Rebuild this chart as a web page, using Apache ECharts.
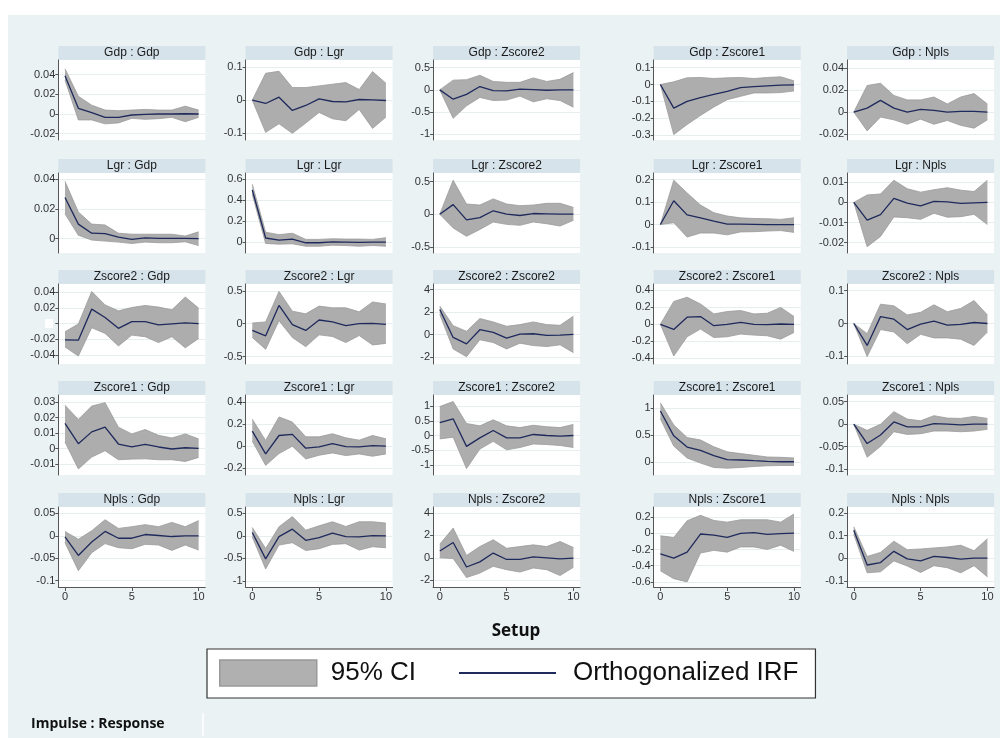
<!DOCTYPE html>
<html><head><meta charset="utf-8">
<script src="https://cdn.jsdelivr.net/npm/echarts@6/dist/echarts.min.js"></script>
<style>
html,body{margin:0;padding:0;background:#fff;}
#bg{position:absolute;left:8px;top:15px;width:992px;height:723px;background:#eaf2f3;}
#chart{position:absolute;left:0;top:0;width:1000px;height:738px;}
</style></head><body>
<div id="bg"></div><div id="chart"></div>
<script>
// ---------------- data ----------------
var HORIZON = [0,1,2,3,4,5,6,7,8,9,10];
var IMPULSES  = ['Gdp','Lgr','Zscore2','Zscore1','Npls'];
var RESPONSES = ['Gdp','Lgr','Zscore2','Zscore1','Npls'];

// impulse Gdp
var irf_Gdp_Gdp = [0.039,0.0058,0.0014,-0.0034,-0.0034,-0.001,-0.0003,0,0,0.0003,0];
var hi_Gdp_Gdp  = [0.046,0.018,0.009,0.004,0.0034,0.004,0.0047,0.004,0.004,0.008,0.004];
var lo_Gdp_Gdp  = [0.0346,-0.006,-0.006,-0.010,-0.009,-0.0044,-0.0054,-0.0047,-0.0034,-0.0078,-0.0034];
var yt_Gdp_Gdp  = [-0.02,0,0.02,0.04];

var irf_Gdp_Lgr = [0,-0.010,0.009,-0.031,-0.016,0.004,-0.004,-0.005,0.002,0.001,-0.001];
var hi_Gdp_Lgr  = [0,0.081,0.087,0.038,0.038,0.043,0.048,0.053,0.032,0.086,0.051];
var lo_Gdp_Lgr  = [0,-0.097,-0.071,-0.10,-0.069,-0.037,-0.056,-0.062,-0.028,-0.085,-0.051];
var yt_Gdp_Lgr  = [-0.1,0,0.1];

var irf_Gdp_Zscore2 = [0,-0.21,-0.1,0.076,-0.015,-0.023,0.015,0.008,-0.008,0,0];
var hi_Gdp_Zscore2  = [0,0.22,0.23,0.33,0.19,0.17,0.17,0.27,0.19,0.24,0.39];
var lo_Gdp_Zscore2  = [0,-0.64,-0.36,-0.17,-0.24,-0.23,-0.14,-0.27,-0.2,-0.24,-0.39];
var yt_Gdp_Zscore2  = [-1,-0.5,0,0.5];

var irf_Gdp_Zscore1 = [0,-0.14,-0.1,-0.078,-0.058,-0.04,-0.018,-0.012,-0.008,-0.004,-0.002];
var hi_Gdp_Zscore1  = [0,0.016,0.04,0.042,0.036,0.04,0.042,0.036,0.042,0.046,0.022];
var lo_Gdp_Zscore1  = [0,-0.298,-0.238,-0.184,-0.134,-0.09,-0.07,-0.05,-0.05,-0.048,-0.038];
var yt_Gdp_Zscore1  = [-0.3,-0.2,-0.1,0,0.1];

var irf_Gdp_Npls = [0,0.0036,0.0106,0.0036,0,0.0024,0.0015,0,0.0006,0.0006,0];
var hi_Gdp_Npls  = [0,0.024,0.026,0.015,0.011,0.011,0.0136,0.0073,0.0136,0.0167,0.0073];
var lo_Gdp_Npls  = [0,-0.017,-0.0045,-0.007,-0.011,-0.0064,-0.011,-0.0076,-0.012,-0.0145,-0.007];
var yt_Gdp_Npls  = [-0.02,0,0.02,0.04];

// impulse Lgr
var irf_Lgr_Gdp = [0.0277,0.0098,0.0037,0.0034,0.0011,-0.0005,0.0005,0.0002,0.0002,0.0002,0];
var hi_Lgr_Gdp  = [0.0385,0.0179,0.0098,0.0092,0.0037,0.003,0.003,0.003,0.003,0.0018,0.0046];
var lo_Lgr_Gdp  = [0.0167,0.0023,-0.0009,-0.0016,-0.0023,-0.0032,-0.0023,-0.0027,-0.0027,-0.0021,-0.0046];
var yt_Lgr_Gdp  = [0,0.02,0.04];

var irf_Lgr_Lgr = [0.494,0.039,0.019,0.029,-0.006,-0.006,0.003,0,-0.003,0,0];
var hi_Lgr_Lgr  = [0.548,0.094,0.071,0.084,0.026,0.026,0.032,0.029,0.029,0.026,0.042];
var lo_Lgr_Lgr  = [0.452,-0.013,-0.019,-0.016,-0.039,-0.039,-0.029,-0.032,-0.039,-0.032,-0.039];
var yt_Lgr_Lgr  = [0,0.2,0.4,0.6];

var irf_Lgr_Zscore2 = [0,0.146,-0.088,-0.052,0.052,0,-0.02,0.01,0.005,0,0];
var hi_Lgr_Zscore2  = [0,0.52,0.156,0.14,0.234,0.156,0.13,0.14,0.166,0.166,0.104];
var lo_Lgr_Zscore2  = [0,-0.21,-0.338,-0.234,-0.12,-0.156,-0.17,-0.12,-0.146,-0.182,-0.094];
var yt_Lgr_Zscore2  = [-0.5,0,0.5];

var irf_Lgr_Zscore1 = [0,0.106,0.043,0.03,0.015,0.0015,0.0015,0.001,0,0,0];
var hi_Lgr_Zscore1  = [0,0.198,0.141,0.087,0.053,0.038,0.03,0.027,0.026,0.023,0.03];
var lo_Lgr_Zscore1  = [0,0.008,-0.056,-0.038,-0.038,-0.046,-0.033,-0.032,-0.029,-0.027,-0.035];
var yt_Lgr_Zscore1  = [-0.1,0,0.1,0.2];

var irf_Lgr_Npls = [0,-0.0088,-0.0061,0.002,-0.0003,-0.0017,0.0005,0.0003,-0.0005,-0.0002,0];
var hi_Lgr_Npls  = [0,0.0037,0.0042,0.011,0.0068,0.0051,0.0063,0.0073,0.0061,0.0054,0.011];
var lo_Lgr_Npls  = [0,-0.022,-0.0169,-0.0072,-0.0076,-0.0084,-0.0054,-0.0073,-0.0071,-0.0059,-0.011];
var yt_Lgr_Npls  = [-0.02,-0.01,0,0.01];

// impulse Zscore2
var irf_Zscore2_Gdp = [-0.0208,-0.0212,0.0186,0.0078,-0.006,0.0026,0.0026,-0.0017,-0.0004,0.0009,0];
var hi_Zscore2_Gdp  = [-0.0104,-0.0004,0.0413,0.024,0.0164,0.0207,0.0233,0.0212,0.0177,0.0341,0.0199];
var lo_Zscore2_Gdp  = [-0.0298,-0.0415,-0.0052,-0.0125,-0.0285,-0.0147,-0.0168,-0.0242,-0.0168,-0.031,-0.019];
var yt_Zscore2_Gdp  = [-0.04,-0.02,0,0.02,0.04];

var irf_Zscore2_Lgr = [-0.103,-0.185,0.277,-0.015,-0.103,0.056,0.026,-0.031,0,0.005,-0.01];
var hi_Zscore2_Lgr  = [0.01,0.026,0.49,0.19,0.149,0.267,0.241,0.241,0.18,0.33,0.30];
var lo_Zscore2_Lgr  = [-0.21,-0.39,0.046,-0.21,-0.349,-0.17,-0.195,-0.287,-0.18,-0.323,-0.30];
var yt_Zscore2_Lgr  = [-0.5,0,0.5];

var irf_Zscore2_Zscore2 = [2.25,-0.24,-0.81,0.45,0.21,-0.3,0.06,0.09,-0.06,-0.03,0.03];
var hi_Zscore2_Zscore2  = [2.55,0.81,0.3,1.44,1.14,0.75,0.9,1.14,0.9,0.84,1.65];
var lo_Zscore2_Zscore2  = [1.8,-1.26,-1.95,-0.45,-0.69,-1.26,-0.75,-0.96,-1.05,-0.9,-1.59];
var yt_Zscore2_Zscore2  = [-2,0,2,4];

var irf_Zscore2_Zscore1 = [0,-0.06,0.084,0.092,-0.016,0,0.024,0,-0.004,0.004,0];
var hi_Zscore2_Zscore1  = [0,0.27,0.32,0.24,0.123,0.151,0.163,0.123,0.131,0.2,0.092];
var lo_Zscore2_Zscore1  = [0,-0.374,-0.147,-0.056,-0.155,-0.147,-0.115,-0.127,-0.135,-0.175,-0.096];
var yt_Zscore2_Zscore1  = [-0.4,-0.2,0,0.2,0.4];

var irf_Zscore2_Npls = [0,-0.067,0.021,0.013,-0.0185,-0.002,0.007,-0.005,-0.003,0.003,0];
var hi_Zscore2_Npls  = [0,-0.031,0.059,0.054,0.026,0.034,0.057,0.036,0.046,0.07,0.026];
var lo_Zscore2_Npls  = [0,-0.101,-0.0185,-0.026,-0.062,-0.033,-0.044,-0.044,-0.048,-0.067,-0.026];
var yt_Zscore2_Npls  = [-0.1,0,0.1];

// impulse Zscore1
var irf_Zscore1_Gdp = [0.0162,0.0032,0.0108,0.0138,0.003,0.0011,0.0028,0.0011,-0.0002,0.0006,0.0002];
var hi_Zscore1_Gdp  = [0.0279,0.0188,0.0274,0.0296,0.0138,0.0095,0.0123,0.0086,0.0069,0.0095,0.0063];
var lo_Zscore1_Gdp  = [0.0043,-0.013,-0.0054,-0.0013,-0.0071,-0.0067,-0.0065,-0.0071,-0.0071,-0.0082,-0.0056];
var yt_Zscore1_Gdp  = [-0.01,0,0.01,0.02,0.03];

var irf_Zscore1_Lgr = [0.137,-0.07,0.097,0.107,-0.018,-0.006,0.024,-0.003,-0.006,0.006,0];
var hi_Zscore1_Lgr  = [0.244,0.052,0.265,0.219,0.085,0.085,0.113,0.076,0.055,0.097,0.067];
var lo_Zscore1_Lgr  = [0.046,-0.174,-0.067,0,-0.116,-0.082,-0.061,-0.085,-0.07,-0.091,-0.07];
var yt_Zscore1_Lgr  = [-0.2,0,0.2,0.4];

var irf_Zscore1_Zscore2 = [0.44,0.57,-0.37,-0.08,0.17,-0.08,-0.08,0.035,0,-0.023,0];
var hi_Zscore1_Zscore2  = [0.99,1.16,0.41,0.33,0.535,0.33,0.27,0.35,0.30,0.27,0.38];
var lo_Zscore1_Zscore2  = [-0.116,-0.058,-1.13,-0.465,-0.2,-0.49,-0.41,-0.29,-0.31,-0.34,-0.41];
var yt_Zscore1_Zscore2  = [-1,-0.5,0,0.5,1];

var irf_Zscore1_Zscore1 = [0.943,0.484,0.277,0.214,0.12,0.044,0.038,0.025,0.013,0.006,0.006];
var hi_Zscore1_Zscore1  = [1.094,0.686,0.453,0.409,0.283,0.189,0.157,0.126,0.094,0.088,0.075];
var lo_Zscore1_Zscore1  = [0.8,0.296,0.075,-0.019,-0.1,-0.113,-0.1,-0.082,-0.069,-0.063,-0.063];
var yt_Zscore1_Zscore1  = [0,0.5,1];

var irf_Zscore1_Npls = [0,-0.043,-0.024,0.005,-0.006,-0.006,0.0015,0,-0.0015,0,0];
var hi_Zscore1_Npls  = [0,-0.0136,0,0.028,0.0114,0.0076,0.019,0.0136,0.0129,0.0174,0.0129];
var lo_Zscore1_Npls  = [0,-0.0735,-0.0493,-0.0167,-0.0227,-0.0212,-0.0152,-0.0152,-0.0167,-0.0152,-0.0114];
var yt_Zscore1_Npls  = [-0.1,-0.05,0,0.05];

// impulse Npls
var irf_Npls_Gdp = [-0.0023,-0.0437,-0.0136,0.0098,-0.0053,-0.0053,0.003,0.0008,-0.0015,0,0];
var hi_Npls_Gdp  = [0.0098,-0.0075,0.0113,0.036,0.0166,0.0204,0.025,0.0204,0.030,0.0204,0.034];
var lo_Npls_Gdp  = [-0.0151,-0.0777,-0.0377,-0.0173,-0.0264,-0.0287,-0.0189,-0.0204,-0.0324,-0.0204,-0.0317];
var yt_Npls_Gdp  = [-0.1,-0.05,0,0.05];

var irf_Npls_Lgr = [0.075,-0.51,-0.015,0.15,-0.098,-0.038,0.06,-0.015,-0.023,0.008,0];
var hi_Npls_Lgr  = [0.188,-0.278,0.203,0.43,0.128,0.225,0.315,0.21,0.315,0.315,0.285];
var lo_Npls_Lgr  = [-0.023,-0.735,-0.203,-0.15,-0.323,-0.285,-0.188,-0.173,-0.315,-0.24,-0.263];
var yt_Npls_Lgr  = [-1,-0.5,0,0.5];

var irf_Npls_Zscore2 = [0.61,1.36,-0.82,-0.36,0.42,-0.15,-0.15,0.09,0,-0.09,-0.03];
var hi_Npls_Zscore2  = [1.21,2.64,0.21,1.0,1.6,0.85,1.0,1.15,1.0,1.45,0.91];
var lo_Npls_Zscore2  = [0,-0.06,-1.76,-1.36,-0.76,-1.06,-1.27,-0.91,-1.06,-1.58,-0.85];
var yt_Npls_Zscore2  = [-2,0,2,4];

var irf_Npls_Zscore1 = [-0.253,-0.307,-0.232,-0.008,-0.021,-0.05,0,0.008,-0.013,-0.004,0.004];
var hi_Npls_Zscore1  = [-0.03,-0.05,0.156,0.223,0.16,0.139,0.168,0.168,0.168,0.139,0.24];
var lo_Npls_Zscore1  = [-0.463,-0.56,-0.6,-0.244,-0.21,-0.232,-0.168,-0.168,-0.198,-0.147,-0.223];
var yt_Npls_Zscore1  = [-0.6,-0.4,-0.2,0,0.2];

var irf_Npls_Npls = [0.123,-0.03,-0.0195,0.03,-0.003,-0.012,0.0075,0.003,-0.0045,0,0];
var hi_Npls_Npls  = [0.138,0.0075,0.0255,0.075,0.0375,0.0405,0.045,0.0495,0.057,0.033,0.0855];
var lo_Npls_Npls  = [0.105,-0.0645,-0.06,-0.012,-0.0345,-0.063,-0.033,-0.042,-0.0645,-0.033,-0.0825];
var yt_Npls_Npls  = [-0.1,0,0.1,0.2];

// y-axis extents of each panel's plot region [min, max]
var YRANGE = {
  Gdp_Gdp:[-0.0264,0.0549], Gdp_Lgr:[-0.120,0.121], Gdp_Zscore2:[-1.13,0.674], Gdp_Zscore1:[-0.33,0.146], Gdp_Npls:[-0.0252,0.047],
  Lgr_Gdp:[-0.0096,0.0441], Lgr_Lgr:[-0.103,0.655], Lgr_Zscore2:[-0.594,0.63], Lgr_Zscore1:[-0.127,0.230], Lgr_Npls:[-0.0251,0.0146],
  Zscore2_Gdp:[-0.0517,0.0508], Zscore2_Lgr:[-0.613,0.603], Zscore2_Zscore2:[-2.6,4.51], Zscore2_Zscore1:[-0.468,0.476], Zscore2_Npls:[-0.1237,0.1206],
  Zscore1_Gdp:[-0.0169,0.0345], Zscore1_Lgr:[-0.261,0.464], Zscore1_Zscore2:[-1.349,1.384], Zscore1_Zscore1:[-0.239,1.239], Zscore1_Npls:[-0.113,0.065],
  Npls_Gdp:[-0.114,0.0643], Npls_Lgr:[-1.135,0.643], Npls_Zscore2:[-2.6,4.52], Npls_Zscore1:[-0.663,0.326], Npls_Npls:[-0.127,0.2255]
};
// tick labels hidden in the original (value covered)
var HIDDEN_LABELS = { Zscore2_Gdp:[0] };

// ---------------- layout ----------------
var COL_LEFT = [58.3, 245.6, 433.1, 653.7, 847.1];
var ROW_TOP  = [60, 173, 284, 395, 507];
var PLOT_W = 147, PLOT_H = 80, HEAD_H = 14;
var FONT = 'Liberation Sans, Arial, sans-serif';

var grids=[], xAxes=[], yAxes=[], series=[], graphics=[];
function fmt(v){ return String(parseFloat((+v).toFixed(4))); }

IMPULSES.forEach(function(imp, r){
  RESPONSES.forEach(function(resp, c){
    var key = imp + '_' + resp;
    var i = grids.length;
    var irf = window['irf_'+key], hi = window['hi_'+key], lo = window['lo_'+key], yt = window['yt_'+key];
    var hidden = HIDDEN_LABELS[key] || [];
    var left = COL_LEFT[c], top = ROW_TOP[r];
    grids.push({left:left, top:top, width:PLOT_W, height:PLOT_H, show:true, backgroundColor:'#ffffff', borderWidth:0, containLabel:false});
    var bottom = (r === IMPULSES.length-1);
    xAxes.push({
      type:'category', gridIndex:i, data:HORIZON, boundaryGap:true,
      axisLine:{show:bottom, onZero:false, lineStyle:{color:'#555', width:1}},
      axisTick:{show:bottom, alignWithLabel:true, length:4, interval:function(idx){return idx%5===0;}, lineStyle:{color:'#555'}},
      axisLabel:{show:bottom, interval:function(idx){return idx%5===0;}, fontSize:11, color:'#333', fontFamily:FONT, margin:4},
      splitLine:{show:false}
    });
    yAxes.push({
      type:'value', gridIndex:i, min:YRANGE[key][0], max:YRANGE[key][1],
      axisLine:{show:true, lineStyle:{color:'#555', width:1}},
      axisTick:{show:true, length:3, customValues:yt, lineStyle:{color:'#555'}},
      axisLabel:{show:true, customValues:yt.filter(function(v){return hidden.indexOf(v)<0;}), formatter:fmt, fontSize:11, color:'#333', fontFamily:FONT, margin:3},
      splitLine:{show:true, lineStyle:{color:'#e6eef0', width:1}}
    });
    series.push({
      type:'line', name:'ci_lower', xAxisIndex:i, yAxisIndex:i, data:lo,
      stack:'ci'+i, stackStrategy:'all', symbol:'none', silent:true,
      lineStyle:{color:'#9b9b9b', width:0.8}, z:2
    });
    series.push({
      type:'line', name:'95% CI', xAxisIndex:i, yAxisIndex:i,
      data:hi.map(function(h,k){return h - lo[k];}),
      stack:'ci'+i, stackStrategy:'all', symbol:'none', silent:true,
      lineStyle:{color:'#9b9b9b', width:0.8}, itemStyle:{color:'#adadad'},
      areaStyle:{color:'#adadad', opacity:1}, z:2
    });
    series.push({
      type:'line', name:'Orthogonalized IRF', xAxisIndex:i, yAxisIndex:i, data:irf,
      symbol:'none', silent:true, lineStyle:{color:'#1f2a5c', width:1.3}, itemStyle:{color:'#1f2a5c'}, z:3
    });
    graphics.push({type:'rect', shape:{x:left, y:top-HEAD_H, width:PLOT_W, height:HEAD_H}, style:{fill:'#d6e3ea'}, silent:true});
    graphics.push({type:'text', x:left+PLOT_W/2, y:top-HEAD_H/2, silent:true,
      style:{text:imp+' : '+resp, fill:'#1a1a1a', font:'12px '+FONT, textAlign:'center', textVerticalAlign:'middle'}});
  });
});

// decorations from the original image
graphics.push({type:'rect', shape:{x:45, y:319, width:8, height:9}, style:{fill:'#ffffff'}, silent:true});
graphics.push({type:'line', shape:{x1:203, y1:713, x2:203, y2:736}, style:{stroke:'#ffffff', lineWidth:1.5}, silent:true});
graphics.push({type:'text', x:516, y:631, silent:true,
  style:{text:'Setup', fill:'#111', font:'bold 17px "Open Sans", sans-serif', textAlign:'center', textVerticalAlign:'middle'}});
graphics.push({type:'text', x:31, y:724, silent:true,
  style:{text:'Impulse : Response', fill:'#111', font:'bold 14px "Open Sans", sans-serif', textAlign:'left', textVerticalAlign:'middle'}});

var chart = echarts.init(document.getElementById('chart'), null, {renderer:'canvas'});
chart.setOption({
  backgroundColor:'transparent',
  animation:false,
  grid:grids, xAxis:xAxes, yAxis:yAxes, series:series,
  legend:{
    left:207, top:649, orient:'horizontal',
    padding:[10,17,11,12], itemWidth:97, itemHeight:26, itemGap:42,
    backgroundColor:'#ffffff', borderColor:'#333', borderWidth:1.2, borderRadius:0,
    selectedMode:false,
    textStyle:{fontSize:26, color:'#111', fontFamily:FONT, lineHeight:28},
    data:[
      {name:'95% CI', icon:'rect', itemStyle:{color:'#b0b0b0', borderColor:'#999', borderWidth:1.5}, textStyle:{padding:[0,0,0,9]}},
      {name:'Orthogonalized IRF', itemStyle:{opacity:0}, lineStyle:{width:2, color:'#1f2a5c'}, textStyle:{padding:[0,0,0,12]}}
    ]
  },
  graphic:graphics
});
</script>
</body></html>
